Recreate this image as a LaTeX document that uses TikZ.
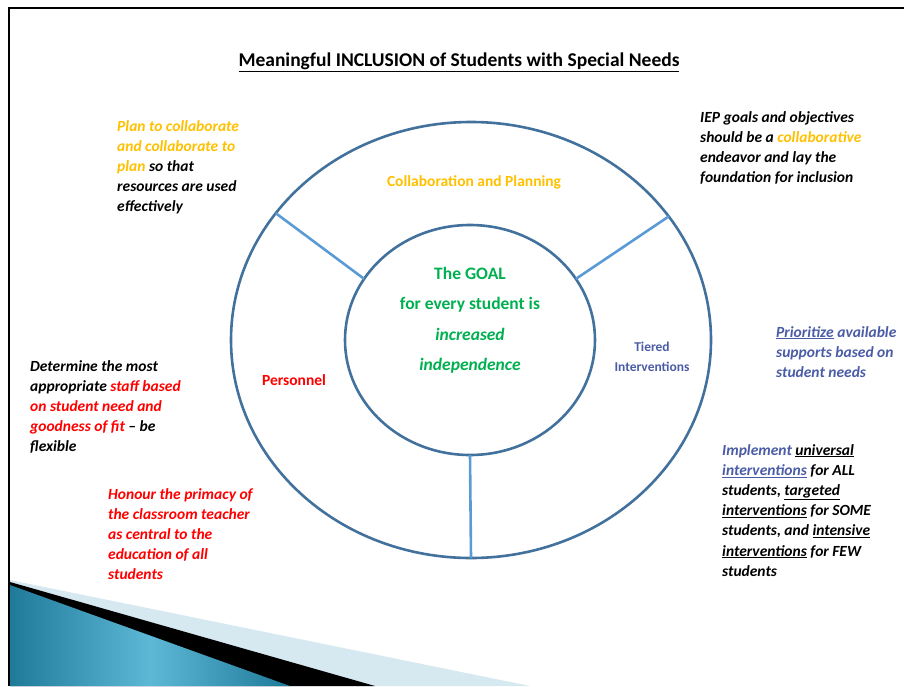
\documentclass[tikz,border=0pt]{standalone}
\usepackage{fontspec}
\setmainfont{Carlito}
\usetikzlibrary{shapes.geometric, positioning}

\definecolor{ringblue}{HTML}{41719C}
\definecolor{spokeblue}{HTML}{5B9BD5}
\definecolor{goldtxt}{HTML}{FFC000}
\definecolor{goalgreen}{HTML}{00B050}
\definecolor{tierblue}{HTML}{4A5CA6}
\definecolor{tealdark}{HTML}{1F7A9A}
\definecolor{teallight}{HTML}{5DB8D6}
\definecolor{paleblue}{HTML}{D6E8F0}

\tikzset{
	ring/.style={ellipse, draw=ringblue, line width=2.6pt, inner sep=0pt, outer sep=0pt},
	spoke/.style={draw=spokeblue, line width=2.6pt},
	% notes are placed by the baseline of their last line
	note/.style={anchor=base west, align=left, inner sep=0pt,
		font=\fontsize{15.5}{20.2}\selectfont\bfseries\itshape},
	sectlabel/.style={inner sep=0pt, font=\fontsize{15.5}{20}\selectfont\bfseries}
}

\begin{document}
\begin{tikzpicture}[x=1pt, y=-1pt]
	\useasboundingbox (0,0) rectangle (904,686);
	
	% corner wedge
	\fill[paleblue] (10,580) -- (530,686) -- (10,686) -- cycle;
	\fill[black] (10,582) -- (375,686) -- (10,686) -- cycle;
	\shade[left color=tealdark, right color=tealdark, middle color=teallight]
		(10,585) -- (290,686) -- (10,686) -- cycle;
	\draw[line width=2pt] (9,686) -- (9,8) -- (904,8);
	
	\node[font=\fontsize{19.5}{22}\selectfont\bfseries] (title) at (459,62)
		{\underline{Meaningful INCLUSION of Students with Special Needs}};
	
	% rings and spokes
	\node[ring, minimum width=480pt, minimum height=436pt] (outer) at (471,340) {};
	\node[ring, minimum width=250pt, minimum height=230pt] (inner) at (470,340) {};
	\draw[spoke] (inner.150) -- (outer.147);
	\draw[spoke] (inner.30) -- (outer.32);
	\draw[spoke] (inner.south) -- (outer.south);
	
	\node[sectlabel, text=goldtxt] (collab) at (474,182) {Collaboration and Planning};
	\node[sectlabel, text=red] (personnel) at (294,380) {Personnel};
	\node[sectlabel, text=tierblue, align=center, font=\fontsize{13.5}{20}\selectfont\bfseries]
		(tiered) at (652,357) {Tiered\\Interventions};
	
	\node[inner sep=0pt, align=center, text=goalgreen,
		font=\fontsize{17.5}{30.5}\selectfont\bfseries] (goal) at (470,320)
		{The GOAL\\for every student is\\\textit{increased}\\\textit{independence}};
	
	% side notes
	\node[note] (plannote) at (117,211.8)
		{\textcolor{goldtxt}{Plan to collaborate}\\
		 \textcolor{goldtxt}{and collaborate to}\\
		 \textcolor{goldtxt}{plan} so that\\
		 resources are used\\
		 effectively};
	\node[note] (iepnote) at (700,182.6)
		{IEP goals and objectives\\
		 should be a \textcolor{goldtxt}{collaborative}\\
		 endeavor and lay the\\
		 foundation for inclusion};
	\node[note, text=tierblue] (prionote) at (776,377.4)
		{\underline{Prioritize} available\\
		 supports based on\\
		 student needs};
	\node[note] (tiernote) at (722,576.2)
		{\textcolor{tierblue}{Implement} \underline{universal}\\
		 \textcolor{tierblue}{\underline{interventions}} for ALL\\
		 students, \underline{targeted}\\
		 \underline{interventions} for SOME\\
		 students, and \underline{intensive}\\
		 \underline{interventions} for FEW\\
		 students};
	\node[note] (staffnote) at (30,451.8)
		{Determine the most\\
		 appropriate \textcolor{red}{staff based}\\
		 \textcolor{red}{on student need and}\\
		 \textcolor{red}{goodness of fit} -- be\\
		 flexible};
	\node[note, text=red] (teachnote) at (108,579.8)
		{Honour the primacy of\\
		 the classroom teacher\\
		 as central to the\\
		 education of all\\
		 students};
\end{tikzpicture}
\end{document}
